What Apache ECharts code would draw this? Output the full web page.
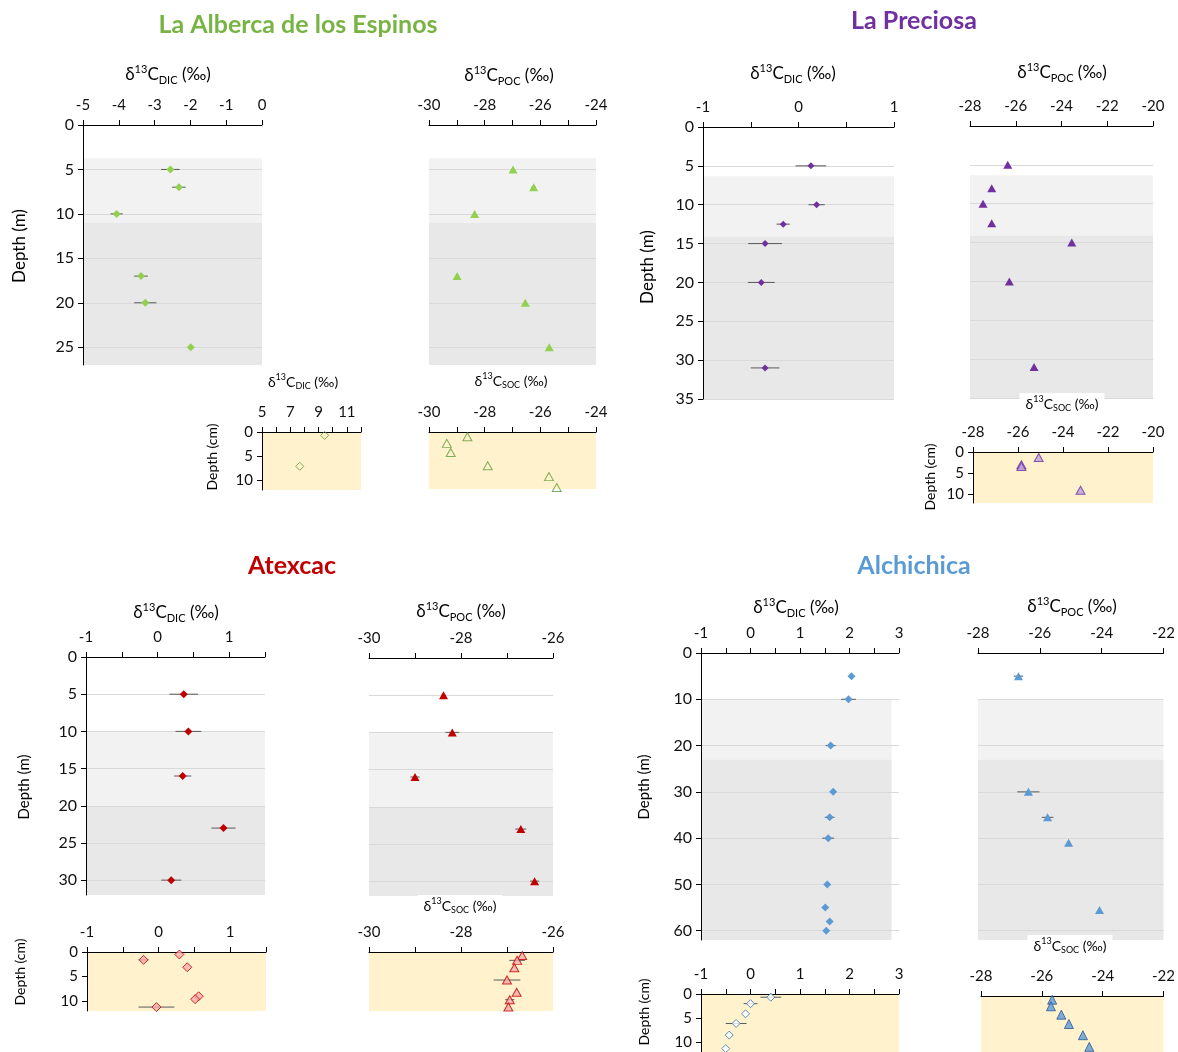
<!DOCTYPE html>
<html><head><meta charset="utf-8">
<script src="https://cdn.jsdelivr.net/npm/echarts@6/dist/echarts.min.js"></script>
<style>html,body{margin:0;padding:0;background:#fff}#c{width:1178px;height:1052px}</style>
</head><body><div id="c"></div>
<script>
// ---------------- DATA ----------------
// La Alberca de los Espinos
const albDicDepth = [5, 7, 10, 17, 20, 25];
const albDic      = [-2.56, -2.32, -4.06, -3.38, -3.26, -1.99];
const albDicErr   = [0.26, 0.19, 0.17, 0.19, 0.31, 0];
const albPocDepth = [5, 7, 10, 17, 20, 25];
const albPoc      = [-26.98, -26.24, -28.36, -28.99, -26.54, -25.68];
const albPocErr   = [0, 0.08, 0, 0, 0.06, 0];
const albSedDicDepth = [0.7, 7.1];
const albSedDic      = [9.43, 7.67];
const albSocDepth = [1.0, 2.4, 4.3, 7.1, 9.4, 11.7];
const albSoc      = [-28.62, -29.36, -29.22, -27.89, -25.69, -25.41];
const albLayers   = [[3.75, 11], [11, 27]];

// La Preciosa
const preDicDepth = [5, 10, 12.5, 15, 20, 31];
const preDic      = [0.13, 0.19, -0.16, -0.35, -0.39, -0.35];
const preDicErr   = [0.16, 0.085, 0.07, 0.176, 0.14, 0.15];
const prePocDepth = [5, 8, 10, 12.5, 15, 20, 31];
const prePoc      = [-26.35, -27.05, -27.43, -27.05, -23.55, -26.28, -25.2];
const preSocDepth = [1.3, 3.0, 3.4, 9.0];
const preSoc      = [-25.08, -25.85, -25.85, -23.22];
const preLayers   = [[6.35, 14.1], [14.1, 35]];

// Atexcac
const atxDicDepth = [5, 10, 16, 23, 30];
const atxDic      = [0.365, 0.43, 0.35, 0.92, 0.19];
const atxDicErr   = [0.2, 0.18, 0.12, 0.17, 0.14];
const atxPocDepth = [5, 10, 16, 23, 30];
const atxPoc      = [-28.38, -28.19, -29.0, -26.70, -26.40];
const atxPocErr   = [0.05, 0.15, 0.1, 0.12, 0.1];
const atxSedDicDepth = [0.5, 1.6, 3.1, 9.0, 9.6, 11.2];
const atxSedDic      = [0.29, -0.21, 0.40, 0.56, 0.51, -0.03];
const atxSedDicErr   = [0, 0.07, 0, 0, 0, 0.25];
const atxSocDepth = [0.7, 1.7, 3.2, 5.7, 8.2, 9.7, 11.2];
const atxSoc      = [-26.67, -26.78, -26.84, -27.0, -26.79, -26.94, -26.97];
const atxSocErr   = [0, 0.17, 0, 0.29, 0, 0.1, 0];
const atxLayers   = [[10, 20], [20, 32]];

// Alchichica
const alcDicDepth = [5, 10, 20, 30, 35.5, 40, 50, 55, 58, 60];
const alcDic      = [2.04, 1.98, 1.62, 1.67, 1.60, 1.57, 1.55, 1.51, 1.60, 1.53];
const alcDicErr   = [0.05, 0.15, 0.1, 0.05, 0.1, 0.12, 0.05, 0.05, 0.05, 0.05];
const alcPocDepth = [5, 30, 35.5, 41, 55.5];
const alcPoc      = [-26.69, -26.37, -25.75, -25.07, -24.07];
const alcPocErr   = [0.15, 0.36, 0.19, 0.05, 0.05];
const alcSedDicDepth = [0.66, 2.0, 4.1, 6.1, 8.5, 11.3];
const alcSedDic      = [0.41, 0.0, -0.10, -0.29, -0.43, -0.50];
const alcSedDicErr   = [0.21, 0.14, 0, 0.21, 0, 0];
const alcSocDepth = [0.8, 2.2, 4.0, 6.0, 8.4, 10.9];
const alcSoc      = [-25.66, -25.70, -25.36, -25.11, -24.65, -24.44];
const alcLayers   = [[10, 23], [23, 62]];

// tick labels
const ticksA = [0, 5, 10, 15, 20, 25];
const ticksB = [0, 5, 10, 15, 20, 25, 30, 35];
const ticksC = [0, 5, 10, 15, 20, 25, 30];
const ticksD = [0, 10, 20, 30, 40, 50, 60];
const ticksSed = [0, 5, 10];

// ---------------- BUILD ----------------
const FF = 'Lato, "Open Sans", sans-serif';
const BAND = ['#f2f2f2', '#e8e8e8'];
const SEDCOL = ['#fff2cc'];
const grids = [], xAxes = [], yAxes = [], series = [], graphics = [];

function addPanel(cfg) {
  const i = grids.length;
  grids.push({left: cfg.box[0], top: cfg.box[1], width: cfg.box[2], height: cfg.box[3]});
  xAxes.push({
    type: 'value', gridIndex: i, position: 'top', min: cfg.x[0], max: cfg.x[1], interval: cfg.x[2],
    axisLine: {show: true, onZero: false, lineStyle: {color: '#000', width: 1}},
    axisTick: {show: true, inside: false, length: 5, lineStyle: {color: '#000'}},
    axisLabel: {customValues: cfg.xLabels, fontSize: 15, color: '#111', fontFamily: FF, margin: 12},
    splitLine: {show: false}, z: 1
  });
  yAxes.push({
    type: 'value', gridIndex: i, inverse: true, min: 0, max: cfg.yMax,
    axisLine: {show: !!cfg.yAxis, onZero: false, lineStyle: {color: '#000', width: 1}},
    axisTick: {show: !!cfg.yAxis, customValues: cfg.yTicks, length: 5, lineStyle: {color: '#000'}},
    axisLabel: {show: !!cfg.yAxis, customValues: cfg.yTicks, fontSize: cfg.yFont || 16, color: '#111', fontFamily: FF, margin: 9},
    splitLine: {show: !!cfg.gridLines, lineStyle: {color: '#d9d9d9', width: 1}}, z: 1
  });
  if (cfg.layers) {
    const x0 = cfg.x[0], x1 = cfg.bandEnd != null ? cfg.bandEnd : cfg.x[1];
    const cols = cfg.layerColors;
    series.push({
      type: 'custom', xAxisIndex: i, yAxisIndex: i, z: 0, silent: true, clip: false,
      data: cfg.layers.map(l => [x0, l[0], l[1]]),
      renderItem: (p, api) => {
        const a = api.coord([x0, api.value(1)]);
        const b = api.coord([x1, api.value(2)]);
        return {type: 'rect', shape: {x: a[0], y: a[1], width: b[0] - a[0], height: b[1] - a[1]}, style: {fill: cols[p.dataIndex]}};
      }
    });
  }
  (cfg.sets || []).forEach(s => {
    if (s.err) {
      series.push({
        type: 'custom', xAxisIndex: i, yAxisIndex: i, z: 2, silent: true,
        data: s.vals.map((v, k) => [v, s.depth[k], s.err[k]]),
        renderItem: (p, api) => {
          const e = api.value(2);
          if (!e) return null;
          const a = api.coord([api.value(0) - e, api.value(1)]);
          const b = api.coord([api.value(0) + e, api.value(1)]);
          return {type: 'line', shape: {x1: a[0], y1: a[1], x2: b[0], y2: b[1]}, style: {stroke: '#595959', lineWidth: 1}};
        }
      });
    }
    series.push({
      type: 'scatter', xAxisIndex: i, yAxisIndex: i, z: 3, silent: true,
      symbol: s.symbol, symbolSize: s.size, itemStyle: s.style,
      data: s.vals.map((v, k) => [v, s.depth[k]])
    });
  });
}

const dia = (c, sz) => ({symbol: 'diamond', size: sz || 8, style: {color: c, opacity: 1}});
const tri = (c, sz) => ({symbol: 'triangle', size: sz || [9, 8], style: {color: c, opacity: 1}});
const G = '#92d050', P = '#7030a0', R = '#c00000', B = '#5b9bd5';

// ---- La Alberca ----
addPanel({box: [83, 125, 179, 240], x: [-5, 0, 1], yMax: 27, yTicks: ticksA, yAxis: true, gridLines: true,
  layers: albLayers, layerColors: BAND,
  sets: [Object.assign(dia(G), {vals: albDic, depth: albDicDepth, err: albDicErr})]});
addPanel({box: [429, 125, 167, 240], x: [-30, -24, 1], xLabels: [-30, -28, -26, -24], yMax: 27, yTicks: ticksA, gridLines: true,
  layers: albLayers, layerColors: BAND,
  sets: [Object.assign(tri(G), {vals: albPoc, depth: albPocDepth, err: albPocErr})]});
addPanel({box: [262, 432, 99, 58], x: [5, 12, 1], xLabels: [5, 7, 9, 11], yMax: 12, yTicks: ticksSed, yAxis: true, yFont: 15,
  layers: [[0, 12]], layerColors: SEDCOL,
  sets: [{symbol: 'diamond', size: 8, style: {color: 'rgba(0,0,0,0)', borderColor: '#5e9c3a', borderWidth: 1}, vals: albSedDic, depth: albSedDicDepth}]});
addPanel({box: [429, 432, 167, 57], x: [-30, -24, 1], xLabels: [-30, -28, -26, -24], yMax: 12, yTicks: ticksSed,
  layers: [[0, 12]], layerColors: SEDCOL,
  sets: [{symbol: 'triangle', size: [9, 8], style: {color: 'rgba(0,0,0,0)', borderColor: '#5e9c3a', borderWidth: 1}, vals: albSoc, depth: albSocDepth}]});

// ---- La Preciosa ----
addPanel({box: [703, 127, 191, 272], x: [-1, 1, 0.5], xLabels: [-1, 0, 1], yMax: 35, yTicks: ticksB, yAxis: true, gridLines: true,
  layers: preLayers, layerColors: BAND,
  sets: [Object.assign(dia(P, 7), {vals: preDic, depth: preDicDepth, err: preDicErr})]});
addPanel({box: [970, 126, 183, 272], x: [-28, -20, 2], yMax: 35, yTicks: ticksB, gridLines: true,
  layers: preLayers, layerColors: BAND,
  sets: [Object.assign(tri(P), {vals: prePoc, depth: prePocDepth})]});
addPanel({box: [973, 452, 180, 51], x: [-28, -20, 2], yMax: 12, yTicks: ticksSed, yAxis: true, yFont: 15,
  layers: [[0, 12]], layerColors: SEDCOL,
  sets: [{symbol: 'triangle', size: [9, 8], style: {color: '#b9a3dc', borderColor: '#7030a0', borderWidth: 1}, vals: preSoc, depth: preSocDepth}]});

// ---- Atexcac ----
addPanel({box: [86, 657, 179, 238], x: [-1, 1.5, 0.5], xLabels: [-1, 0, 1], yMax: 32, yTicks: ticksC, yAxis: true, gridLines: true,
  layers: atxLayers, layerColors: BAND,
  sets: [Object.assign(dia(R), {vals: atxDic, depth: atxDicDepth, err: atxDicErr})]});
addPanel({box: [369, 658, 184, 238], x: [-30, -26, 1], xLabels: [-30, -28, -26], yMax: 32, yTicks: ticksC, gridLines: true,
  layers: atxLayers, layerColors: BAND,
  sets: [Object.assign(tri(R), {vals: atxPoc, depth: atxPocDepth, err: atxPocErr})]});
addPanel({box: [87, 952, 179, 59], x: [-1, 1.5, 0.5], xLabels: [-1, 0, 1], yMax: 12, yTicks: ticksSed, yAxis: true, yFont: 15,
  layers: [[0, 12]], layerColors: SEDCOL,
  sets: [{symbol: 'diamond', size: 9, style: {color: '#f4aeae', borderColor: '#c00000', borderWidth: 1}, vals: atxSedDic, depth: atxSedDicDepth, err: atxSedDicErr}]});
addPanel({box: [369, 952, 184, 59], x: [-30, -26, 1], xLabels: [-30, -28, -26], yMax: 12, yTicks: ticksSed,
  layers: [[0, 12]], layerColors: SEDCOL,
  sets: [{symbol: 'triangle', size: [9, 8], style: {color: '#f4aeae', borderColor: '#c00000', borderWidth: 1}, vals: atxSoc, depth: atxSocDepth, err: atxSocErr}]});

// ---- Alchichica ----
addPanel({box: [701, 653, 198, 287], x: [-1, 3, 0.5], xLabels: [-1, 0, 1, 2, 3], yMax: 62, yTicks: ticksD, yAxis: true, gridLines: true,
  layers: alcLayers, layerColors: BAND, bandEnd: 2.85,
  sets: [Object.assign(dia(B), {vals: alcDic, depth: alcDicDepth, err: alcDicErr})]});
addPanel({box: [978, 653, 187, 287], x: [-28, -22, 2], yMax: 62, yTicks: ticksD, gridLines: true,
  layers: alcLayers, layerColors: BAND,
  sets: [Object.assign(tri(B), {vals: alcPoc, depth: alcPocDepth, err: alcPocErr})]});
addPanel({box: [701, 994, 198, 61], x: [-1, 3, 0.5], xLabels: [-1, 0, 1, 2, 3], yMax: 12, yTicks: ticksSed, yAxis: true, yFont: 15,
  layers: [[0, 12]], layerColors: SEDCOL,
  sets: [{symbol: 'diamond', size: 8, style: {color: '#ffffff', borderColor: '#2e75b6', borderWidth: 1}, vals: alcSedDic, depth: alcSedDicDepth, err: alcSedDicErr}]});
addPanel({box: [981, 996, 184, 61], x: [-28, -22, 2], yMax: 12, yTicks: ticksSed,
  layers: [[0, 12]], layerColors: SEDCOL,
  sets: [{symbol: 'triangle', size: [9, 9], style: {color: '#5b9bd5', borderColor: '#2f5597', borderWidth: 1}, vals: alcSoc, depth: alcSocDepth}]});

// ---- texts ----
function title(txt, x, y, color) {
  graphics.push({type: 'text', x: x, y: y, z: 100, style: {text: txt, fill: color, font: 'bold 25px ' + FF,
    align: 'center', verticalAlign: 'middle', textAlign: 'center', textVerticalAlign: 'middle'}});
}
function axTitle(sub, x, y, big, box) {
  const m = big ? 17 : 14, s = big ? 11 : 9, lh = big ? 22 : 18;
  const st = {
    text: '{m|δ}{s|13}{m|C}{b|' + sub + '}{m| (‰)}', fill: '#000',
    align: 'center', verticalAlign: 'middle', textAlign: 'center', textVerticalAlign: 'middle',
    rich: {
      m: {font: m + 'px ' + FF, lineHeight: lh, fill: '#000'},
      s: {font: s + 'px ' + FF, lineHeight: s + 1, verticalAlign: 'top', fill: '#000'},
      b: {font: s + 'px ' + FF, lineHeight: s + 1, verticalAlign: 'bottom', fill: '#000'}
    }
  };
  if (box) { st.backgroundColor = '#fff'; st.padding = [2, 6, 0, 6]; }
  graphics.push({type: 'text', x: x, y: y, z: 100, style: st});
}
function yName(txt, x, y, size) {
  graphics.push({type: 'text', x: x, y: y, rotation: Math.PI / 2, z: 100, style: {text: txt, fill: '#000', font: size + 'px ' + FF,
    align: 'center', verticalAlign: 'middle', textAlign: 'center', textVerticalAlign: 'middle'}});
}

title('La Alberca de los Espinos', 298, 25, '#78b444');
title('La Preciosa', 914, 21, '#7030a0');
title('Atexcac', 292, 566, '#c00000');
title('Alchichica', 914, 566, '#5b9bd5');

axTitle('DIC', 168, 75, true);
axTitle('POC', 509, 76, true);
axTitle('DIC', 303, 382, false);
axTitle('SOC', 511, 381, false);
axTitle('DIC', 793, 74, true);
axTitle('POC', 1062, 73, true);
axTitle('SOC', 1062, 403, false, true);
axTitle('DIC', 176, 613, true);
axTitle('POC', 461, 612, true);
axTitle('SOC', 460, 905, false, true);
axTitle('DIC', 796, 608, true);
axTitle('POC', 1072, 607, true);
axTitle('SOC', 1070, 945, false, true);

yName('Depth (m)', 20, 246, 17);
yName('Depth (cm)', 212, 457, 14);
yName('Depth (m)', 648, 267, 17);
yName('Depth (cm)', 930, 477, 14);
yName('Depth (m)', 24, 787, 15);
yName('Depth (cm)', 20, 972, 14);
yName('Depth (m)', 644, 787, 15);
yName('Depth (cm)', 644, 1012, 14);

const chart = echarts.init(document.getElementById('c'), null, {renderer: 'canvas'});
chart.setOption({
  animation: false,
  backgroundColor: '#fff',
  textStyle: {fontFamily: FF},
  grid: grids, xAxis: xAxes, yAxis: yAxes, series: series,
  graphic: {elements: graphics}
});
</script></body></html>
